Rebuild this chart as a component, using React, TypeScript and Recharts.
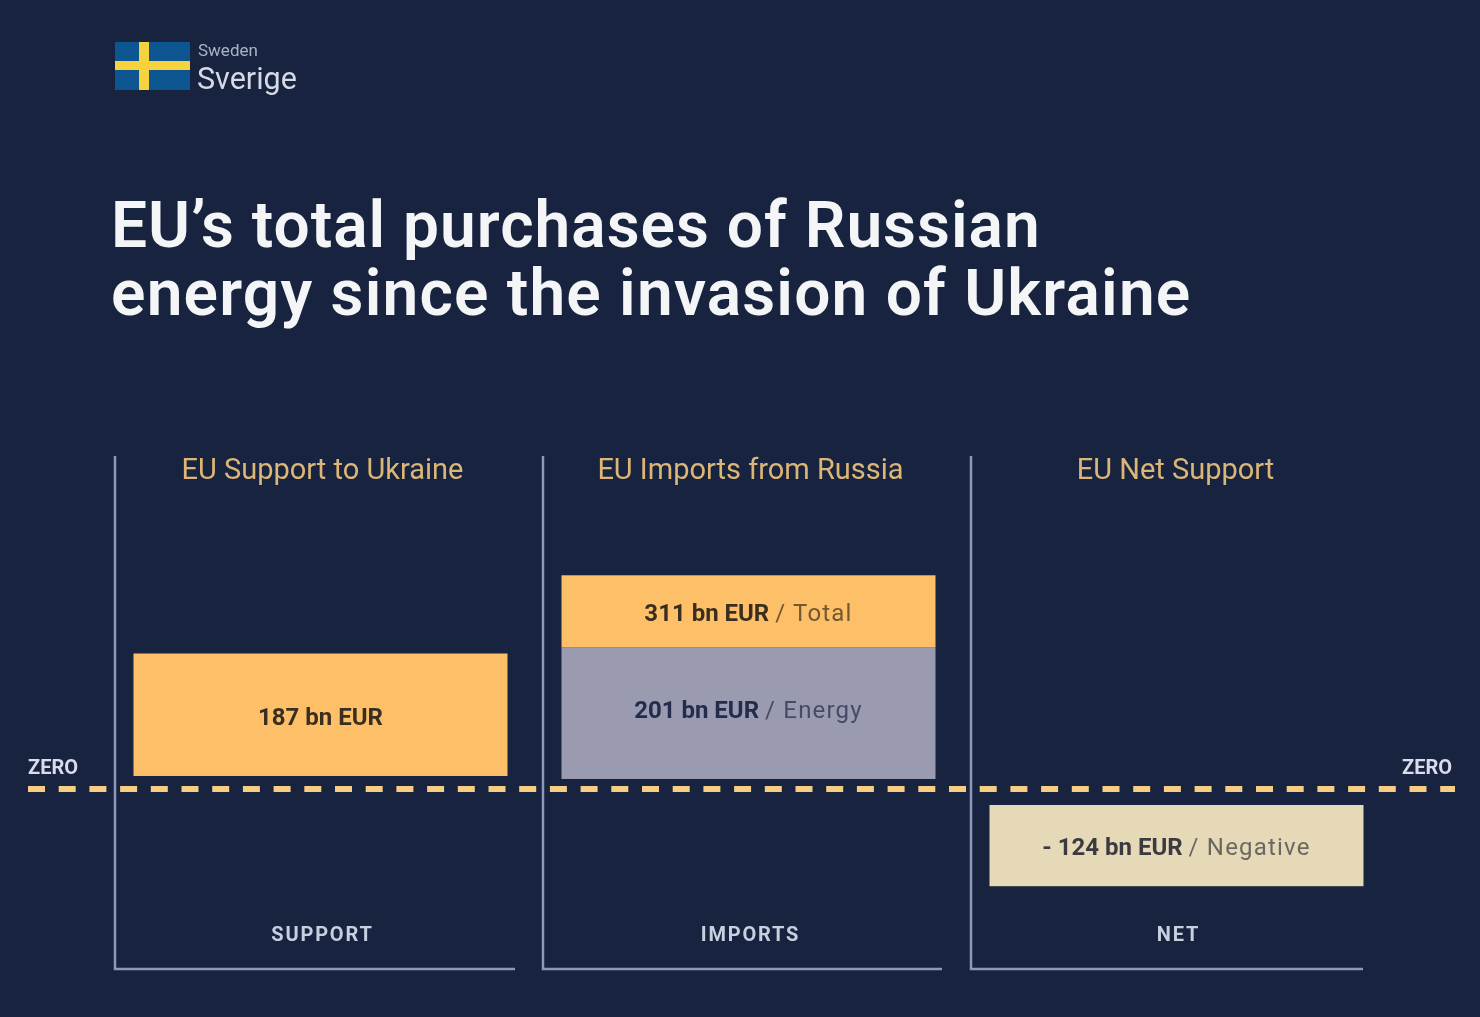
import { BarChart, Bar, XAxis, YAxis, ReferenceLine, LabelList } from "recharts"

const categories = ["SUPPORT", "IMPORTS", "NET"]
const panelTitles = ["EU Support to Ukraine", "EU Imports from Russia", "EU Net Support"]
const mainValues = [187, 201, -124]
const topValues = [null, 110, null]
const mainBold = ["187 bn EUR", "201 bn EUR", "- 124 bn EUR"]
const mainLight = ["", "/ Energy", "/ Negative"]
const topBold = ["", "311 bn EUR", ""]
const topLight = ["", "/ Total", ""]

const data = categories.map((category, i) => ({
  category,
  title: panelTitles[i],
  main: mainValues[i],
  top: topValues[i],
}))

const BG = "#18233f"
const LINE = "#8d99b8"
const GOLD = "#fdc068"
const mainColors = [GOLD, "#9a9bb0", "#e6d9b8"]
const FONT = "Roboto, sans-serif"

// the bars float a little off the zero line in the original
const floatPx = [-13, -10, 16]
const mainLabelDy = [2, -3, 1]
const topLabelDy = [0, 2, 0]
const titleDx = [2, 2, -1]

const panels = [
  { x: 115, end: 515 },
  { x: 543, end: 942 },
  { x: 971, end: 1363 },
]

function FloatingBar(props: any) {
  const { x, y, width, height, index, fill } = props
  if (!height) return null
  const top = Math.min(y, y + height) + floatPx[index]
  return <rect x={x} y={top} width={width} height={Math.abs(height)} fill={fill ?? mainColors[index]} />
}

function barLabel(bold: string[], light: string[], color: string[], dy: number[]) {
  return (props: any) => {
    const { x, y, width, height, index } = props
    if (!bold[index]) return null
    const cy = Math.min(y, y + height) + Math.abs(height) / 2 + floatPx[index] + dy[index]
    return (
      <text
        x={x + width / 2}
        y={cy}
        textAnchor="middle"
        dominantBaseline="central"
        fontFamily={FONT}
        fontSize={24}
        fill={color[index]}
      >
        <tspan fontWeight={700}>{bold[index]}</tspan>
        {light[index] ? (
          <tspan fontWeight={400} fillOpacity={0.72} letterSpacing={1.2} dx={6}>
            {light[index]}
          </tspan>
        ) : null}
      </text>
    )
  }
}

function BottomTick(props: any) {
  const { x, y, payload } = props
  return (
    <text x={x + 2} y={y - 43} textAnchor="middle" dominantBaseline="central" fontFamily={FONT} fontSize={20} fontWeight={700} letterSpacing={1.8} fill="#c8cfdf">
      {payload.value}
    </text>
  )
}

function TitleTick(props: any) {
  const { x, y, payload, index } = props
  return (
    <text x={x + titleDx[index]} y={y + 15} textAnchor="middle" dominantBaseline="central" fontFamily={FONT} fontSize={29} fill="#dcb676">
      {payload.value}
    </text>
  )
}

function ZeroLabel(props: any) {
  const { viewBox, side } = props
  const left = side === "left"
  return (
    <text
      x={left ? viewBox.x : viewBox.x + viewBox.width - 3}
      y={viewBox.y - 22}
      textAnchor={left ? "start" : "end"}
      dominantBaseline="central"
      fontFamily={FONT}
      fontSize={20}
      fontWeight={700}
      fill="#d8dde9"
    >
      ZERO
    </text>
  )
}

export default function App() {
  return (
    <div style={{ position: "absolute", left: 0, top: 0, width: 1480, height: 1017, background: BG, overflow: "hidden", filter: "blur(0.6px)" }}>
      <svg width={1480} height={1017} style={{ position: "absolute", left: 0, top: 0 }}>
        <rect x={115} y={42} width={75} height={48} fill="#0c5590" />
        <rect x={139} y={42} width={10} height={48} fill="#f6d33c" />
        <rect x={115} y={61} width={75} height={9} fill="#f6d33c" />
        <text x={198} y={56} fontFamily={FONT} fontSize={17} fill="#aab2c6">Sweden</text>
        <text x={197} y={89} fontFamily={FONT} fontSize={30.5} fill="#d5dae6">Sverige</text>
        <text x={111} y={247} fontFamily={FONT} fontSize={64} fontWeight={600} letterSpacing={1} fill="#f4f5f7">EU’s total purchases of Russian</text>
        <text x={111} y={315} fontFamily={FONT} fontSize={64} fontWeight={600} letterSpacing={1.2} fill="#f4f5f7">energy since the invasion of Ukraine</text>
        {panels.map((p) => (
          <path key={p.x} d={`M${p.x} 456V969H${p.end}`} fill="none" stroke={LINE} strokeWidth={2.5} />
        ))}
      </svg>
      <div style={{ position: "absolute", left: 0, top: 0 }}>
        <BarChart
          width={1480}
          height={1017}
          data={data}
          stackOffset="sign"
          barSize={374}
          margin={{ top: 460.5, right: 25, bottom: 46.9, left: 28 }}
        >
          <YAxis hide domain={[-275, 500]} />
          <XAxis
            dataKey="category"
            xAxisId={0}
            height={1}
            axisLine={false}
            tickLine={false}
            tick={<BottomTick />}
            padding={{ left: 78.5, right: 64.5 }}
          />
          <XAxis
            dataKey="title"
            xAxisId="top"
            orientation="top"
            height={1}
            axisLine={false}
            tickLine={false}
            tick={<TitleTick />}
            padding={{ left: 78.5, right: 64.5 }}
          />
          <ReferenceLine
            y={0}
            stroke="#f6cd83"
            strokeWidth={6}
            strokeDasharray="17 13.7"
            label={<ZeroLabel side="left" />}
          />
          <ReferenceLine y={0} stroke="none" label={<ZeroLabel side="right" />} />
          <Bar dataKey="main" stackId="a" shape={<FloatingBar />} isAnimationActive={false}>
            <LabelList content={barLabel(mainBold, mainLight, ["#3a2f1f", "#232c4c", "#3a3a40"], mainLabelDy)} />
          </Bar>
          <Bar dataKey="top" stackId="a" shape={<FloatingBar fill={GOLD} />} isAnimationActive={false}>
            <LabelList content={barLabel(topBold, topLight, ["#3a2f1f", "#3a2f1f", "#3a2f1f"], topLabelDy)} />
          </Bar>
        </BarChart>
      </div>
    </div>
  )
}
